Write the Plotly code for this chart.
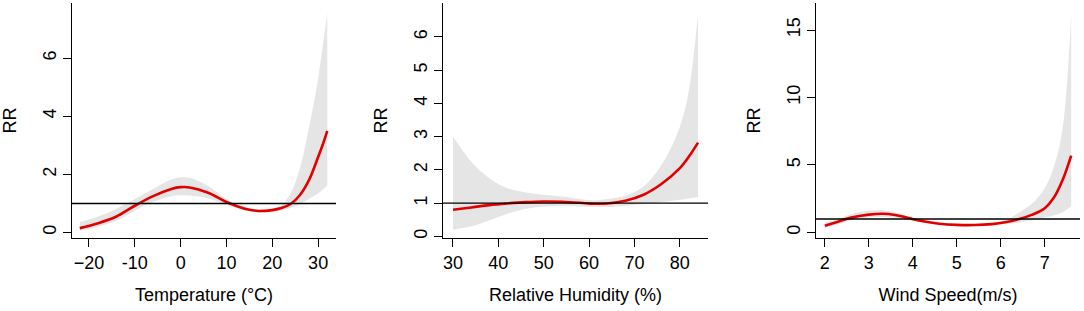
import plotly.graph_objects as go

# ---- Panel 1: Temperature ----
temp_x = [-22, -18, -14, -10, -6, -2, 0, 2, 6, 10, 14, 17, 20, 22, 24, 26, 28, 30, 31, 32]
temp_rr = [0.15, 0.32, 0.55, 0.92, 1.25, 1.50, 1.56, 1.55, 1.37, 1.05, 0.82, 0.74, 0.77, 0.84, 0.98, 1.28, 1.80, 2.60, 3.02, 3.50]
temp_hi = [0.36, 0.55, 0.82, 1.15, 1.50, 1.82, 1.90, 1.88, 1.60, 1.15, 0.88, 0.79, 0.84, 0.94, 1.35, 2.20, 3.60, 5.30, 6.40, 7.55]
temp_lo = [0.07, 0.20, 0.40, 0.75, 1.05, 1.25, 1.28, 1.27, 1.17, 0.95, 0.76, 0.69, 0.72, 0.76, 0.84, 0.97, 1.15, 1.35, 1.48, 1.62]

# ---- Panel 2: Relative humidity ----
hum_x = [30, 34, 38, 42, 46, 50, 54, 58, 61, 64, 68, 72, 76, 80, 82, 84]
hum_rr = [0.80, 0.87, 0.94, 0.99, 1.03, 1.05, 1.04, 1.01, 0.98, 0.99, 1.07, 1.25, 1.58, 2.05, 2.40, 2.82]
hum_hi = [3.00, 2.25, 1.75, 1.45, 1.32, 1.25, 1.20, 1.12, 1.08, 1.12, 1.22, 1.50, 2.15, 3.30, 4.40, 6.70]
hum_lo = [0.20, 0.30, 0.48, 0.68, 0.83, 0.90, 0.92, 0.90, 0.89, 0.88, 0.92, 0.97, 1.03, 1.10, 1.14, 1.18]

# ---- Panel 3: Wind speed ----
wind_x = [2.0, 2.3, 2.6, 3.0, 3.3, 3.6, 3.9, 4.2, 4.6, 5.0, 5.4, 5.8, 6.1, 6.4, 6.7, 7.0, 7.2, 7.4, 7.6]
wind_rr = [0.50, 0.80, 1.10, 1.32, 1.39, 1.30, 1.07, 0.85, 0.65, 0.56, 0.55, 0.62, 0.75, 0.97, 1.30, 1.80, 2.55, 3.85, 5.70]
wind_hi = [0.70, 1.00, 1.35, 1.60, 1.63, 1.50, 1.18, 0.93, 0.72, 0.63, 0.62, 0.70, 0.90, 1.45, 2.10, 3.30, 4.80, 7.60, 16.1]
wind_lo = [0.33, 0.60, 0.90, 1.10, 1.15, 1.10, 0.95, 0.77, 0.58, 0.50, 0.49, 0.55, 0.62, 0.72, 0.90, 1.10, 1.25, 1.50, 1.95]

temp_ticks = [-20, -10, 0, 10, 20, 30]
temp_ticktext = ["\u221220", "-10", "0", "10", "20", "30"]
hum_ticks = [30, 40, 50, 60, 70, 80]
wind_ticks = [2, 3, 4, 5, 6, 7]
temp_yticks = [0, 2, 4, 6]
hum_yticks = [0, 1, 2, 3, 4, 5, 6]
wind_yticks = [0, 5, 10, 15]

x_titles = ["Temperature (\u00b0C)", "Relative Humidity (%)", "Wind Speed(m/s)"]

BAND = "#e5e5e5"
RED = "#e00000"
FONT = "Liberation Sans, Arial, sans-serif"

panels = [
    (temp_x, temp_rr, temp_hi, temp_lo),
    (hum_x, hum_rr, hum_hi, hum_lo),
    (wind_x, wind_rr, wind_hi, wind_lo),
]

W, H = 1084, 311
xdom_px = [(72, 336), (443, 708), (816, 1080)]
ydom = [1 - 238 / H, 1 - 3 / H]
xranges = [[-23.7, 33.9], [27.8, 86.2], [1.8, 7.8]]
yranges = [[-0.19, 7.9], [-0.05, 7.02], [-0.41, 17.0]]
xtick_vals = [temp_ticks, hum_ticks, wind_ticks]
xtick_text = [temp_ticktext, [str(v) for v in hum_ticks], [str(v) for v in wind_ticks]]
ytick_vals = [temp_yticks, hum_yticks, wind_yticks]

fig = go.Figure()
layout = dict(
    width=W, height=H,
    margin=dict(l=0, r=0, t=0, b=0),
    paper_bgcolor="white", plot_bgcolor="white",
    showlegend=False,
    font=dict(family=FONT, size=18, color="black"),
)
shapes = []
for i, (xs, rr, hi, lo) in enumerate(panels):
    n = "" if i == 0 else str(i + 1)
    xa, ya = "x" + n, "y" + n
    fig.add_trace(go.Scatter(x=xs, y=lo, xaxis=xa, yaxis=ya, mode="lines",
                             line=dict(width=0, color=BAND, shape="spline"), hoverinfo="skip"))
    fig.add_trace(go.Scatter(x=xs, y=hi, xaxis=xa, yaxis=ya, mode="lines",
                             line=dict(width=0, color=BAND, shape="spline"),
                             fill="tonexty", fillcolor=BAND, hoverinfo="skip"))
    fig.add_trace(go.Scatter(x=xs, y=rr, xaxis=xa, yaxis=ya, mode="lines",
                             line=dict(width=2.6, color=RED, shape="spline")))
    shapes.append(dict(type="line", xref=xa + " domain", yref=ya, x0=0, x1=1, y0=1, y1=1,
                       line=dict(color="black", width=1.4), layer="above"))
    x0, x1 = xdom_px[i]
    common = dict(showline=True, linecolor="black", linewidth=1.3, ticks="outside",
                  ticklen=8, tickwidth=1.2, tickcolor="black", showgrid=False,
                  zeroline=False, tickfont=dict(family=FONT, size=18, color="black"))
    layout["xaxis" + n] = dict(domain=[x0 / W, x1 / W], range=xranges[i], anchor=ya,
                               tickmode="array", tickvals=xtick_vals[i], ticktext=xtick_text[i],
                               title=dict(text=x_titles[i], standoff=16,
                                          font=dict(family=FONT, size=18, color="black")),
                               **common)
    layout["yaxis" + n] = dict(domain=ydom, range=yranges[i], anchor=xa,
                               tickmode="array", tickvals=ytick_vals[i], tickangle=-90,
                               title=dict(text="RR", standoff=18,
                                          font=dict(family=FONT, size=18, color="black")),
                               **common)
layout["shapes"] = shapes
fig.update_layout(**layout)
fig.write_html("out.html", config={"displayModeBar": False},
               post_script="document.body.style.margin='0';document.body.style.padding='0';")
